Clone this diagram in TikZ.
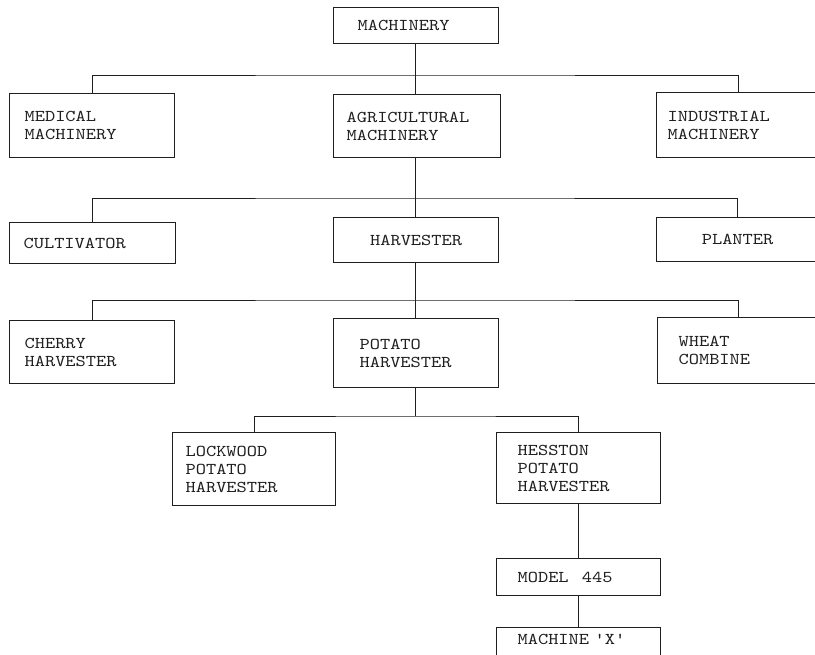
\documentclass[tikz,border=0pt]{standalone}
\usepackage{fontspec}
\newfontfamily\tw[FakeStretch=1.18]{lmmono10-regular.otf}
\definecolor{ink}{gray}{0.12}
\tikzset{
  bx/.style={draw=ink, text=ink, line width=1.2pt, anchor=north west, inner ysep=0pt,
             font=\tw\fontsize{16.5}{18}\selectfont, align=left},
  cn/.style={draw=ink, line width=0.9pt},
}
\begin{document}
\begin{tikzpicture}[x=1pt,y=-1pt]
\useasboundingbox (0,0) rectangle (815,655);
\clip (0,0) rectangle (815,655);
\fill[white] (0,0) rectangle (815,655);
% level 0
\node[bx, inner xsep=24pt, text width=117pt, minimum height=36pt] (m) at (333,7) {MACHINERY};
% level 1
\node[bx, inner xsep=15pt, text width=135pt, minimum height=64pt] (med) at (9,93) {MEDICAL\\MACHINERY};
\node[bx, inner xsep=13pt, text width=141pt, minimum height=63pt] (agr) at (333,94) {AGRICULTURAL\\MACHINERY};
\node[bx, inner xsep=11pt, text width=142pt, minimum height=65pt] (ind) at (656,92) {INDUSTRIAL\\MACHINERY};
% level 2
\node[bx, inner xsep=14pt, text width=138pt, minimum height=41pt] (cul) at (9,222) {CULTIVATOR};
\node[bx, inner xsep=0pt, text width=165pt, align=center, minimum height=45pt] (har) at (333,217) {HARVESTER};
\node[bx, inner xsep=0pt, text width=162pt, align=center, minimum height=44pt] (pla) at (656,217) {PLANTER};
% level 3
\node[bx, inner xsep=15pt, text width=135pt, minimum height=63pt] (che) at (9,320) {CHERRY\\HARVESTER};
\node[bx, inner xsep=26pt, text width=113pt, minimum height=69pt] (pot) at (333,318) {POTATO\\HARVESTER};
\node[bx, inner xsep=21pt, text width=119pt, minimum height=66pt] (whe) at (657,317) {WHEAT\\COMBINE};
% level 4
\node[bx, inner xsep=13pt, text width=137pt, minimum height=73pt] (loc) at (172,432) {LOCKWOOD\\POTATO\\HARVESTER};
\node[bx, inner xsep=21pt, text width=122pt, minimum height=71pt] (hes) at (496,432) {HESSTON\\POTATO\\HARVESTER};
% level 5, 6
\node[bx, inner xsep=21pt, text width=122pt, minimum height=37pt] (mod) at (496,558) {MODEL\hspace{0.8em}445};
\node[bx, inner xsep=21pt, text width=122pt, text height=17pt, text depth=21pt] (mac) at (496,627) {MACHINE 'X'};
% connectors
\coordinate (b1) at (415,75);
\coordinate (b2) at (415,198);
\coordinate (b3) at (415,300);
\coordinate (b4) at (415,416);
\draw[cn] (m.south -| b1) -- (agr.north -| b1);
\draw[cn] (med.north) |- (b1) -| (ind.north);
\draw[cn] (agr.south -| b1) -- (har.north -| b1);
\draw[cn] (cul.north) |- (b2) -| (pla.north);
\draw[cn] (har.south -| b1) -- (pot.north -| b1);
\draw[cn] (che.north) |- (b3) -| (whe.north);
\draw[cn] (pot.south -| b1) -- (b4);
\draw[cn] (loc.north) |- (b4) -| (hes.north);
\draw[cn] (hes.south) -- (mod.north);
\draw[cn] (mod.south) -- (mac.north);
\end{tikzpicture}
\end{document}
